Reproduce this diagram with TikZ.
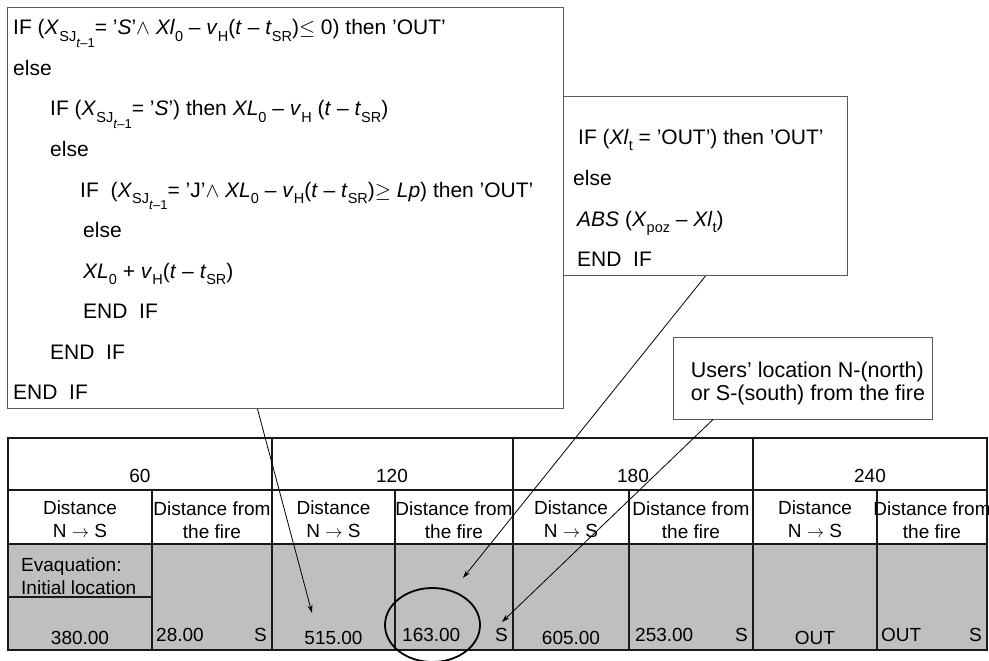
\documentclass[tikz,border=0pt]{standalone}
\usepackage{fontspec}
\setmainfont{Liberation Sans}
\usetikzlibrary{arrows.meta,positioning}

\newcommand{\codefont}{\fontsize{21}{24}\selectfont}
\newcommand{\cellfont}{\fontsize{19}{23}\selectfont}
\newcommand{\notefont}{\fontsize{21.5}{23}\selectfont}
\newcommand{\lo}[1]{\raisebox{-0.3em}{\fontsize{14.5}{14.5}\selectfont #1}}
\newcommand{\Xsj}{\textit{X}\raisebox{-0.3em}{\fontsize{14.5}{14.5}\selectfont SJ\raisebox{-0.45em}{\fontsize{13}{13}\selectfont\textit{t}–1}}}

\begin{document}
\begin{tikzpicture} [
        x=1pt, y=-1pt,
        codebox/.style={draw=black!65, line width=1pt, fill=white, rectangle, anchor=north west},
        code/.style={anchor=base west, inner sep=0pt, font=\codefont},
        cell/.style={anchor=base, inner sep=0pt, font=\cellfont},
        tabline/.style={draw=black!90, line width=1.5pt},
        >={Stealth[length=8pt,width=5pt]} ]
    \useasboundingbox (0,0) rectangle (989,661);

    % pseudo code for the distance N -> S
    \node[codebox, minimum width=556pt, minimum height=401pt] (ifbox) at (7,7) {};
    \node[code] (l1) at (13,35) {IF (\Xsj= '\textit{S}'$\wedge$ \textit{Xl}\lo{0} – \textit{v}\lo{H}(\textit{t} – \textit{t}\lo{SR})${\leq}$ 0) then 'OUT'};
    \node[code] (l2) at (13,75.5) {else};
    \node[code] (l3) at (50,116) {IF (\Xsj= '\textit{S}') then \textit{XL}\lo{0} – \textit{v}\lo{H} (\textit{t} – \textit{t}\lo{SR})};
    \node[code] (l4) at (50,156.5) {else};
    \node[code] (l5) at (80,197) {IF\ \ (\Xsj= 'J'$\wedge$ \textit{XL}\lo{0} – \textit{v}\lo{H}(\textit{t} – \textit{t}\lo{SR})${\geq}$ \textit{Lp}) then 'OUT'};
    \node[code] (l6) at (83,237.5) {else};
    \node[code] (l7) at (83,278) {\textit{XL}\lo{0} + \textit{v}\lo{H}(\textit{t} – \textit{t}\lo{SR})};
    \node[code] (l8) at (83,318.5) {END\ \ IF};
    \node[code] (l9) at (50,359) {END\ \ IF};
    \node[code] (l10) at (13,399.5) {END\ \ IF};

    % pseudo code for the distance from the fire
    \node[codebox, minimum width=284pt, minimum height=179pt] (absbox) at (563,96) {};
    \node[code] (r1) at (578,144) {IF (\textit{Xl}\lo{t} = 'OUT') then 'OUT'};
    \node[code] (r2) at (573,185) {else};
    \node[code] (r3) at (577,226) {\textit{ABS} (\textit{X}\lo{poz} – \textit{Xl}\lo{t})};
    \node[code] (r4) at (577,266) {END\ \ IF};

    \node[draw=black!65, line width=1pt, minimum width=259pt, minimum height=82pt] (users) at (802.5,378) {};
    \node[align=left, font=\notefont, inner sep=0pt] (userstext) at (808,383)
          {Users' location N-(north)\\or S-(south) from the fire};

    % table
    \fill[black!25] (8,544) rectangle (987,650);
    \draw[tabline] (8,438) rectangle (987,650);
    \draw[tabline] (8,490) -- (987,490) (8,544) -- (987,544) (8,597) -- (152,597);
    \foreach \x in {152,395,629,877}
        \draw[tabline] (\x,490) -- (\x,650);
    \foreach \x in {272,513,753}
        \draw[tabline, line width=2.4pt] (\x,438) -- (\x,650);

    \foreach \t/\cx [count=\i] in {60/140,120/392,180/633,240/870}
        \node[cell] (head\i) at (\cx,482) {\t};
    \foreach \lx/\rx [count=\i] in {80/212,333.5/454,571/691,815/932} {
        \node[cell, align=center] (dist\i) at (\lx,537) {Distance\\N $\rightarrow$ S};
        \node[cell, align=center] (fire\i) at (\rx,538) {Distance from\\the fire};
    }
    \node[cell, anchor=west, align=left] (evac) at (21,576) {Evaquation:\\Initial location};
    \foreach \lv/\lx/\rv/\rx/\sx [count=\i] in
        {380.00/80/28.00/156/267, 515.00/333.5/163.00/402/508,
         605.00/571/253.00/635/748, OUT/815/OUT/881/982} {
        \node[cell] (val\i) at (\lx,644) {\lv};
        \node[cell, anchor=base west] (fval\i) at (\rx,641) {\rv};
        \node[cell, anchor=base east] (side\i) at (\sx,641) {S};
    }

    \draw[line width=1.8pt] (432.5,625) ellipse [x radius=47.5pt, y radius=37pt];

    \coordinate (to515) at (312,613);
    \coordinate (to163) at (463,578);
    \coordinate (toS) at (502,622);
    \draw[->, line width=0.8pt] ([xshift=-28pt]ifbox.south) -- (to515);
    \draw[->, line width=0.8pt] (absbox.south) -- (to163);
    \draw[->, line width=0.8pt] ([xshift=-89.5pt]users.south) -- (toS);
\end{tikzpicture}
\end{document}
